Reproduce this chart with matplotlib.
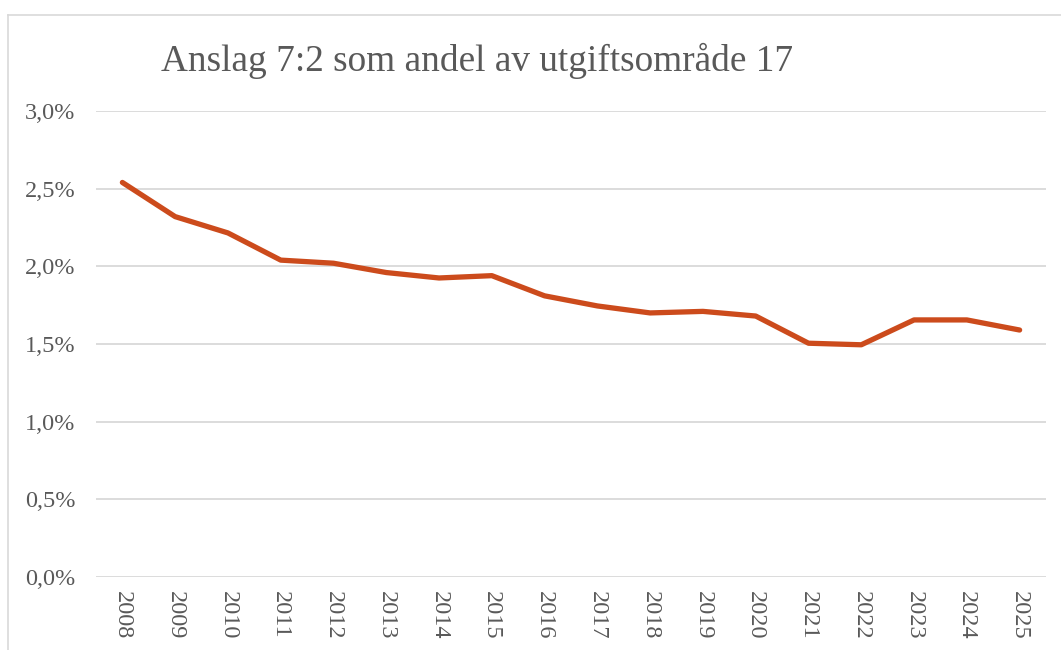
import matplotlib.pyplot as plt
from matplotlib.lines import Line2D
from matplotlib.ticker import FuncFormatter

# data (share in percent)
years = ["2008", "2009", "2010", "2011", "2012", "2013", "2014", "2015", "2016",
         "2017", "2018", "2019", "2020", "2021", "2022", "2023", "2024", "2025"]
andel = [2.54, 2.32, 2.215, 2.04, 2.02, 1.96, 1.925, 1.94, 1.81,
         1.745, 1.70, 1.71, 1.68, 1.505, 1.495, 1.655, 1.655, 1.59]
yticks = [0.0, 0.5, 1.0, 1.5, 2.0, 2.5, 3.0]

plt.rcParams["font.family"] = ["Liberation Serif", "DejaVu Serif"]
textcol = "#595959"

fig = plt.figure(figsize=(10.61, 6.5), dpi=100)
ax = fig.add_axes([96 / 1061, 73 / 650, 950 / 1061, 466 / 650])

x = list(range(len(years)))
ax.plot(x, andel, color="#CC4B1C", linewidth=3.8, solid_capstyle="round",
        solid_joinstyle="round", zorder=3)

ax.set_xlim(-0.5, len(years) - 0.5)
ax.set_ylim(0, 3.0)
ax.set_yticks(yticks)
ax.yaxis.set_major_formatter(FuncFormatter(lambda v, p: f"{v:.1f}%".replace(".", ",")))
ax.set_xticks(x)
ax.set_xticklabels(years, rotation=270)

ax.grid(axis="y", color="#D9D9D9", linewidth=1.3)
ax.set_axisbelow(True)
for s in ax.spines.values():
    s.set_visible(False)
ax.tick_params(axis="both", length=0, labelsize=17.5, labelcolor=textcol)
ax.tick_params(axis="y", pad=15)
ax.tick_params(axis="x", pad=10)

fig.text(477 / 1061, 1 - 61 / 650, "Anslag 7:2 som andel av utgiftsområde 17",
         ha="center", va="center", fontsize=26.8, color=textcol)

# chart frame (top and left edges visible in the reference)
fig.add_artist(Line2D([8 / 1061, 1.0], [1 - 15 / 650, 1 - 15 / 650],
                      transform=fig.transFigure, color="#D9D9D9", linewidth=1.2))
fig.add_artist(Line2D([8 / 1061, 8 / 1061], [0.0, 1 - 15 / 650],
                      transform=fig.transFigure, color="#D9D9D9", linewidth=1.2))

fig.savefig("out.png", dpi=100)
